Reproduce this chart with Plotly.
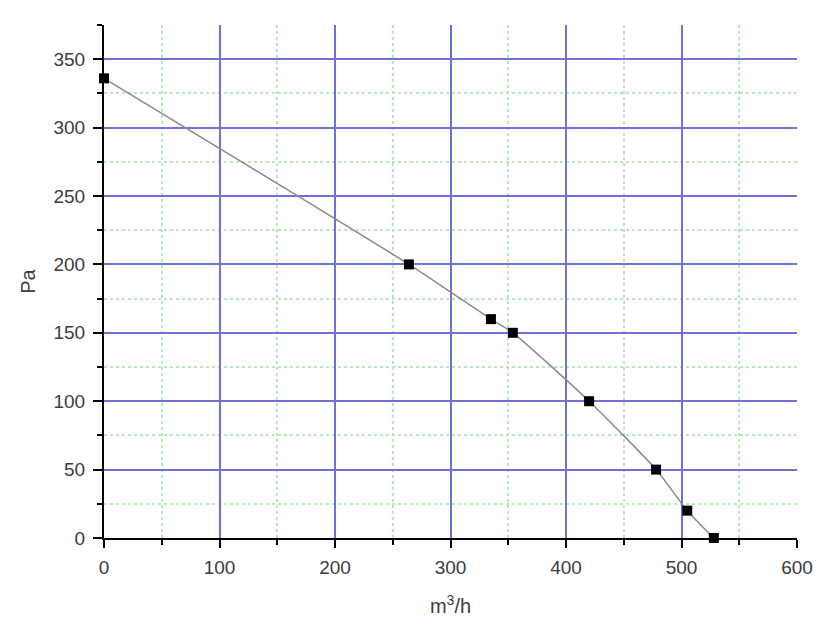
import plotly.graph_objects as go

flow = [0, 264, 335, 354, 420, 478, 505, 528]
pressure = [336, 200, 160, 150, 100, 50, 20, 0]

x_ticks = [0, 100, 200, 300, 400, 500, 600]
y_ticks = [0, 50, 100, 150, 200, 250, 300, 350]

fig = go.Figure()
fig.add_trace(go.Scatter(
    x=flow, y=pressure, mode="lines",
    line=dict(color="#8a8a8a", width=1.5, shape="spline", smoothing=0.6),
    hoverinfo="skip", showlegend=False))
fig.add_trace(go.Scatter(
    x=flow, y=pressure, mode="markers",
    marker=dict(symbol="square", size=10, color="black"),
    showlegend=False, cliponaxis=False))

major_grid = "#7070da"
minor_grid = "#b8e8b8"
font_col = "#3c3c3c"

# page body has an 8px default margin, so shrink figure accordingly
fig.update_layout(
    width=815, height=609,
    margin=dict(l=96, r=26, t=17, b=79),
    paper_bgcolor="white", plot_bgcolor="white",
    font=dict(family="Liberation Sans, Arial, sans-serif", color=font_col, size=19),
    xaxis=dict(
        range=[0, 600], tickvals=x_ticks, ticktext=[str(v) for v in x_ticks],
        showline=True, linecolor="black", linewidth=2,
        ticks="outside", ticklen=8, tickwidth=2, tickcolor="black",
        ticklabelstandoff=3,
        showgrid=True, gridcolor=major_grid, gridwidth=1.6,
        zeroline=False, automargin=False,
        minor=dict(dtick=50, tick0=0, showgrid=True, gridcolor=minor_grid,
                   griddash="dot", gridwidth=1.5, ticks="outside", ticklen=5,
                   tickwidth=2, tickcolor="black"),
        title=dict(text="m<sup>3</sup>/h", font=dict(size=20, color=font_col), standoff=24),
        tickfont=dict(size=19, color=font_col),
    ),
    yaxis=dict(
        range=[0, 375], tickvals=y_ticks, ticktext=[str(v) for v in y_ticks],
        showline=True, linecolor="black", linewidth=2,
        ticks="outside", ticklen=9, tickwidth=2, tickcolor="black",
        ticklabelstandoff=4,
        showgrid=True, gridcolor=major_grid, gridwidth=1.6,
        zeroline=False, automargin=False,
        minor=dict(dtick=25, tick0=0, showgrid=True, gridcolor=minor_grid,
                   griddash="dot", gridwidth=1.5, ticks="outside", ticklen=5,
                   tickwidth=2, tickcolor="black"),
        title=dict(text="Pa", font=dict(size=20, color=font_col), standoff=12),
        tickfont=dict(size=19, color=font_col),
    ),
)

fig.write_html("out.html")
